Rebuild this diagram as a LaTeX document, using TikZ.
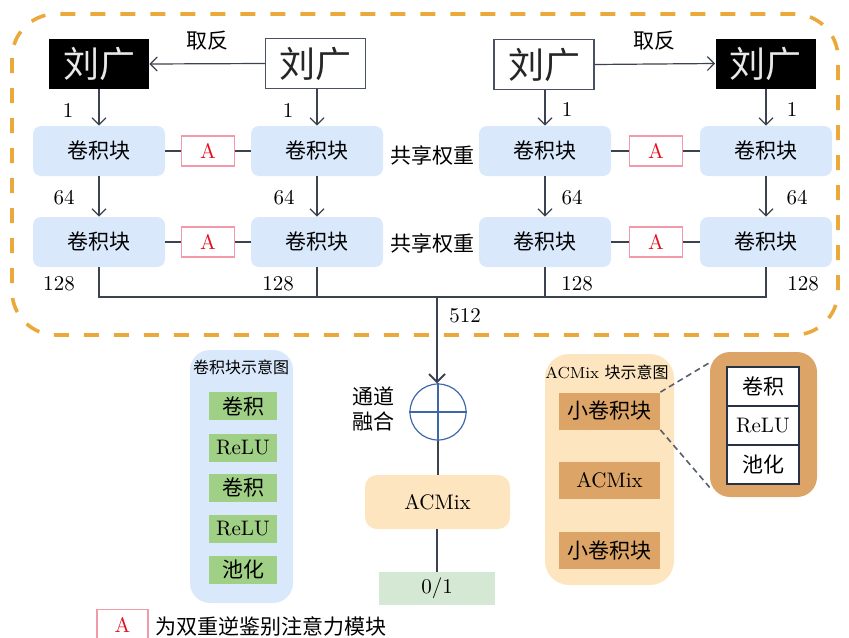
\documentclass[tikz,border=0pt]{standalone}
\usepackage{fontspec}
\newfontfamily\cjk{Noto Sans CJK SC}
\usetikzlibrary{arrows.meta}
\definecolor{blueF}{HTML}{DAE8FC}
\definecolor{orangeD}{HTML}{EBA93B}
\definecolor{pinkB}{HTML}{F29AA8}
\definecolor{redT}{HTML}{E3101E}
\definecolor{peach}{HTML}{FCE5BF}
\definecolor{darkOr}{HTML}{DDA467}
\definecolor{greenB}{HTML}{A0D086}
\definecolor{greenL}{HTML}{D5E8D4}
\definecolor{circB}{HTML}{3C68A8}
\definecolor{lineC}{HTML}{3C4350}
\definecolor{grayB}{HTML}{4A5160}
\definecolor{navyB}{HTML}{283247}
\begin{document}
\fontsize{10.5}{12.6}\selectfont
\begin{tikzpicture}[x=0.5pt,y=-0.5pt,
  blk/.style={fill=blueF, rounded corners=4pt, minimum width=66pt, minimum height=25pt, inner sep=0pt, font=\cjk},
  abox/.style={draw=pinkB, line width=0.6pt, fill=white, minimum width=26.5pt, minimum height=15pt, inner sep=0pt, text=redT},
  img/.style={minimum width=50pt, minimum height=25pt, inner sep=0pt, font=\cjk\fontsize{18}{18}\selectfont},
  wimg/.style={img, draw=grayB, line width=0.6pt, fill=white, text=black!85},
  bimg/.style={img, fill=black, text=white!82!gray},
  ln/.style={draw=lineC, line width=0.6pt},
  arr/.style={ln, -{Straight Barb[length=3.5pt,width=7pt]}},
  lbl/.style={inner sep=0pt},
  gbox/.style={fill=greenB, minimum width=34pt, minimum height=14pt, inner sep=0pt},
  obox/.style={fill=darkOr, minimum width=50.5pt, minimum height=18.5pt, inner sep=0pt},
  cell/.style={draw=navyB, line width=0.6pt, fill=white, minimum width=36pt, minimum height=19.5pt, inner sep=0pt},
]
\useasboundingbox (0,0) rectangle (849,637);

% outer dashed frame
\draw[orangeD, line width=1.8pt, dash pattern=on 7.5pt off 7.5pt, rounded corners=22pt] (12,14) rectangle (838,335);

% images
\node[bimg] (i1) at (99,64) {刘广};
\node[wimg] (i2) at (315.5,63.5) {刘广};
\node[wimg] (i3) at (544,64.5) {刘广};
\node[bimg] (i4) at (765.5,63.5) {刘广};
\draw[arr] (i2.west) -- (i1.east) node[midway, above=3pt, font=\cjk] {取反};
\draw[arr] (i3.east) -- (i4.west) node[midway, above=3pt, font=\cjk] {取反};

% blocks
\node[blk] (b11) at (99,151) {卷积块};
\node[blk] (b12) at (317,151) {卷积块};
\node[blk] (b13) at (545,151) {卷积块};
\node[blk] (b14) at (766,151) {卷积块};
\node[blk] (b21) at (99,242) {卷积块};
\node[blk] (b22) at (317,242) {卷积块};
\node[blk] (b23) at (545,242) {卷积块};
\node[blk] (b24) at (766,242) {卷积块};

\node[abox] (a1) at (208,151) {A};
\node[abox] (a2) at (656,151) {A};
\node[abox] (a3) at (208,242) {A};
\node[abox] (a4) at (656,242) {A};
\draw[ln] (b11.east) -- (a1.west); \draw[ln] (a1.east) -- (b12.west);
\draw[ln] (b13.east) -- (a2.west); \draw[ln] (a2.east) -- (b14.west);
\draw[ln] (b21.east) -- (a3.west); \draw[ln] (a3.east) -- (b22.west);
\draw[ln] (b23.east) -- (a4.west); \draw[ln] (a4.east) -- (b24.west);

\node[font=\cjk] (s1) at (432,155) {共享权重};
\node[font=\cjk] (s2) at (432,243) {共享权重};

% vertical arrows
\draw[arr] (i1.south -| b11.north) -- (b11.north);
\draw[arr] (i2.south -| b12.north) -- (b12.north);
\draw[arr] (i3.south -| b13.north) -- (b13.north);
\draw[arr] (i4.south -| b14.north) -- (b14.north);
\draw[arr] (b11.south) -- (b21.north);
\draw[arr] (b12.south) -- (b22.north);
\draw[arr] (b13.south) -- (b23.north);
\draw[arr] (b14.south) -- (b24.north);

\node[lbl] at (68,111) {1};
\node[lbl] at (288,111) {1};
\node[lbl] at (567,110) {1};
\node[lbl] at (792,110) {1};
\node[lbl] at (64,198) {64};
\node[lbl] at (284,198) {64};
\node[lbl] at (572,198) {64};
\node[lbl] at (797,198) {64};
\node[lbl] at (59,284) {128};
\node[lbl] at (278,284) {128};
\node[lbl] at (577,284) {128};
\node[lbl] at (803,284) {128};

% merge
\coordinate (m) at (437,297);
\draw[ln] (b21.south) |- (m);
\draw[ln] (b22.south) |- (m);
\draw[ln] (b23.south) |- (m);
\draw[ln] (b24.south) |- (m);

\node[circle, draw=circB, line width=0.6pt, minimum size=28pt, inner sep=0pt] (c) at (438,412) {};
\draw[circB, line width=0.6pt] (c.north) -- (c.south) (c.west) -- (c.east);
\draw[ln, line width=1pt, -{Straight Barb[length=4pt,width=8pt]}] (m) -- (m |- c.north);
\node[lbl] at (465,316) {512};
\node[font=\cjk, align=center, inner sep=0pt] (t) at (373,409) {\fontsize{10.5}{14}\selectfont 通道\\融合};

\node[fill=peach, rounded corners=6pt, minimum width=72.5pt, minimum height=27pt, inner sep=0pt] (acm) at (437.5,502) {ACMix};
\node[fill=greenL, minimum width=58pt, minimum height=16.5pt, inner sep=0pt] (out) at (437,588.5) {0/1};
\draw[ln] (c.south) -- (c.south |- acm.north);
\draw[ln] (acm.south -| out.north) -- (out.north);

% conv block legend
\node[fill=blueF, rounded corners=10pt, minimum width=51.5pt, minimum height=126.5pt, inner sep=0pt] (lg1) at (241.5,476.5) {};
\node[font=\cjk\fontsize{8}{8}\selectfont, inner sep=0pt] (lg1t) at (241,367) {卷积块示意图};
\node[gbox, font=\cjk] (g1) at (243,406) {卷积};
\node[gbox] (g2) at (243,447.5) {ReLU};
\node[gbox, font=\cjk] (g3) at (243,487.5) {卷积};
\node[gbox] (g4) at (243,529) {ReLU};
\node[gbox, font=\cjk] (g5) at (243,570) {池化};

% ACMix legend
\node[fill=peach, rounded corners=12pt, minimum width=64.5pt, minimum height=115.5pt, inner sep=0pt] (lg2) at (609.5,469.5) {};
\node[font=\fontsize{8}{8}\selectfont, inner sep=0pt] (lg2t) at (607,372) {ACMix {\cjk 块示意图}};
\node[obox, font=\cjk] (o1) at (609.5,411) {小卷积块};
\node[obox] (o2) at (609.5,480.5) {ACMix};
\node[obox, font=\cjk] (o3) at (609.5,550) {小卷积块};

% detail
\node[fill=darkOr, rounded corners=10pt, minimum width=53.5pt, minimum height=72.5pt, inner sep=0pt] (det) at (763.5,424.5) {};
\node[cell, font=\cjk] (d1) at (763,386.5) {卷积};
\node[cell] (d2) at (763,425.5) {ReLU};
\node[cell, font=\cjk] (d3) at (763,464.5) {池化};
\draw[lineC!85, line width=0.8pt, dash pattern=on 3pt off 2pt] (o1.north east) -- ([yshift=-5.5pt]det.north west);
\draw[lineC!85, line width=0.8pt, dash pattern=on 3pt off 2pt] (o1.south east) -- ([yshift=5pt]det.south west);

% bottom legend
\node[abox, minimum width=25.5pt, minimum height=15.5pt] (la) at (122.5,625) {A};
\node[font=\cjk, anchor=west, inner sep=0pt] (lt) at (155,626) {为双重逆鉴别注意力模块};
\end{tikzpicture}
\end{document}
